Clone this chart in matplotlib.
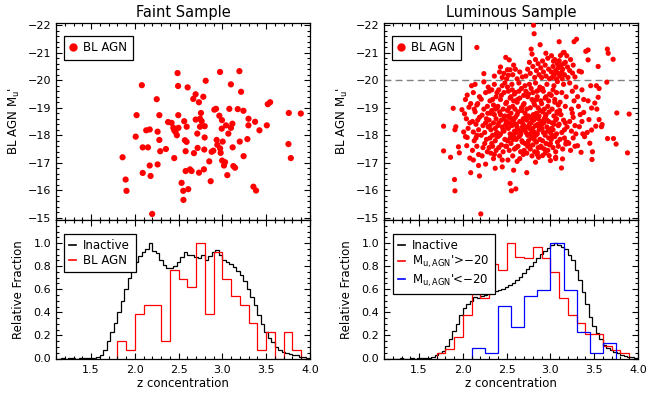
import numpy as np
import matplotlib
matplotlib.use('Agg')
import matplotlib.pyplot as plt
from matplotlib.ticker import MultipleLocator
from matplotlib.lines import Line2D

plt.rcParams['font.family'] = 'DejaVu Sans'
plt.rcParams['font.size'] = 8
plt.rcParams['axes.unicode_minus'] = True

# ---------------- faint sample: BL AGN (concentration, M_u') ----------------
faint_conc = [1.86, 1.895, 1.905, 2.02, 2.01, 2.08, 2.09, 2.09, 2.13, 2.15, 2.17, 2.17, 2.18, 2.198,
              2.25, 2.26, 2.26, 2.28, 2.28, 2.29, 2.355, 2.38, 2.42, 2.44, 2.45, 2.45, 2.465, 2.48,
              2.488, 2.494, 2.496, 2.498, 2.534, 2.553, 2.555, 2.564, 2.572, 2.58, 2.58, 2.591, 2.592,
              2.603, 2.61, 2.63, 2.648, 2.667, 2.675, 2.694, 2.695, 2.713, 2.717, 2.732, 2.733, 2.744,
              2.745, 2.755, 2.763, 2.782, 2.789, 2.793, 2.797, 2.798, 2.809, 2.85, 2.866, 2.877, 2.896,
              2.908, 2.927, 2.934, 2.942, 2.965, 2.973, 2.974, 2.98, 2.992, 2.995, 3.003, 2.997, 3.018,
              3.03, 3.041, 3.056, 3.068, 3.079, 3.097, 3.098, 3.114, 3.117, 3.125, 3.144, 3.175, 3.194,
              3.198, 3.213, 3.24, 3.242, 3.285, 3.297, 3.298, 3.354, 3.373, 3.384, 3.423, 3.507, 3.518,
              3.545, 3.754, 3.758, 3.781, 3.895]
faint_mag = [-17.20, -16.39, -15.98, -18.73, -17.95, -19.82, -17.56, -16.63, -18.18, -17.56, -18.21,
             -16.90, -16.52, -15.14, -19.31, -18.13, -16.94, -18.73, -17.83, -17.42, -17.50, -18.48,
             -18.45, -18.27, -18.18, -17.17, -18.12, -18.00, -20.26, -19.79, -18.73, -18.27, -16.27,
             -15.98, -15.65, -18.51, -17.82, -17.42, -16.70, -17.76, -18.31, -19.74, -16.04, -16.76,
             -16.70, -19.32, -17.35, -19.49, -18.57, -18.06, -17.54, -19.20, -16.64, -18.31, -18.60,
             -18.81, -18.51, -19.40, -16.76, -17.48, -17.92, -18.33, -19.98, -17.05, -16.33, -17.40,
             -17.44, -18.93, -18.96, -17.83, -17.65, -18.71, -20.30, -17.52, -17.36, -18.24, -18.55,
             -17.77, -17.08, -16.90, -17.02, -18.36, -16.55, -18.06, -18.96, -19.85, -18.27, -18.42,
             -17.56, -16.88, -16.82, -18.95, -20.33, -17.77, -19.58, -18.89, -17.24, -17.86, -18.36,
             -18.60, -16.13, -18.49, -15.99, -18.18, -18.36, -19.13, -19.20, -17.68, -18.81, -17.17,
             -18.79]

# ---------------- luminous sample: BL AGN brighter than -20 ----------------
lum_hi_conc = [2.16, 2.24, 2.36,
               2.53, 2.49, 2.43, 2.51, 2.54, 2.45, 2.47, 2.50, 2.42, 2.52,
               2.57, 2.60, 2.62, 2.65, 2.68, 2.58,
               2.807, 2.814, 2.78, 2.79, 2.72, 2.74, 2.76, 2.77, 2.80, 2.82, 2.83, 2.84,
               2.883, 2.948, 2.86, 2.87, 2.89, 2.90, 2.91, 2.92, 2.94, 2.95, 2.97, 2.98, 2.99,
               3.10, 3.012, 3.035, 3.10, 3.12, 3.149, 3.01, 3.02, 3.03, 3.04, 3.05, 3.06, 3.07,
               3.08, 3.085, 3.09, 3.11, 3.115, 3.13, 3.135, 3.14, 3.145,
               3.157, 3.187, 3.195, 3.252, 3.27, 3.298, 3.16, 3.17, 3.20, 3.22, 3.23, 3.26, 3.28,
               3.328, 3.354, 3.404, 3.43, 3.43, 3.545, 3.65, 3.66, 3.716]
lum_hi_mag = [-21.19, -20.24, -20.15,
              -20.74, -20.83, -20.48, -20.38, -20.38, -20.10, -20.25, -20.05, -20.30, -20.18,
              -20.20, -20.40, -20.05, -20.30, -20.12, -20.55,
              -22.00, -21.69, -21.13, -20.95, -20.15, -20.40, -20.65, -20.25, -20.50, -20.10, -20.75, -20.35,
              -21.29, -20.98, -20.60, -20.20, -20.45, -20.10, -20.70, -20.30, -20.55, -20.15, -20.80, -20.40, -20.05,
              -21.40, -20.89, -20.69, -20.71, -20.54, -20.60, -20.30, -20.10, -20.50, -20.20, -20.75, -20.35, -20.05,
              -20.60, -20.25, -20.45, -20.15, -20.90, -20.30, -20.05, -20.40, -21.00,
              -21.01, -20.89, -20.48, -20.26, -21.40, -21.49, -20.20, -20.65, -20.10, -20.35, -20.75, -20.55, -20.12,
              -20.33, -20.30, -21.05, -21.10, -20.74, -20.50, -21.13, -20.98, -20.76]

# ---------------- luminous sample: BL AGN fainter than -20 ----------------
lum_lo_conc = [
    1.78, 1.78, 1.86, 1.89, 1.905, 1.91, 1.91, 1.92, 1.95, 1.96, 1.99,
    2.02, 2.03, 2.05, 2.08, 2.09, 2.05, 2.10, 2.04, 2.06, 2.07, 2.01, 2.045, 2.08, 2.09, 2.03,
    2.18, 2.19, 2.12, 2.13, 2.14, 2.15, 2.11, 2.16, 2.17, 2.12, 2.19, 2.14, 2.16, 2.17, 2.18, 2.13,
    2.15, 2.19, 2.11, 2.16, 2.18, 2.12,
    2.205, 2.21, 2.22, 2.24, 2.23, 2.25, 2.26, 2.27, 2.28, 2.29, 2.21, 2.22, 2.24, 2.25, 2.26, 2.27,
    2.28, 2.29, 2.23, 2.26, 2.285,
    2.30, 2.31, 2.31, 2.32, 2.32, 2.33, 2.33, 2.34, 2.34, 2.35, 2.35, 2.35, 2.36, 2.36, 2.37, 2.37,
    2.37, 2.38, 2.38, 2.38, 2.39, 2.39, 2.39, 2.30, 2.31, 2.32, 2.33, 2.34, 2.36, 2.37, 2.38, 2.39, 2.30,
    2.40, 2.40, 2.41, 2.41, 2.42, 2.42, 2.43, 2.43, 2.44, 2.44, 2.45, 2.45, 2.46, 2.46, 2.47, 2.47,
    2.48, 2.48, 2.49, 2.49, 2.40, 2.41, 2.42, 2.43, 2.44, 2.45, 2.46, 2.47, 2.48, 2.49, 2.45,
    2.54, 2.555, 2.58, 2.50, 2.50, 2.51, 2.51, 2.52, 2.52, 2.53, 2.53, 2.54, 2.54, 2.55, 2.55, 2.56,
    2.56, 2.57, 2.57, 2.58, 2.58, 2.59, 2.59, 2.50, 2.51, 2.52, 2.53, 2.54, 2.55, 2.56, 2.57, 2.58,
    2.59, 2.505, 2.515, 2.535, 2.565, 2.575, 2.585, 2.595,
    2.605, 2.62, 2.60, 2.61, 2.61, 2.62, 2.62, 2.63, 2.63, 2.64, 2.64, 2.65, 2.65, 2.66, 2.66, 2.67,
    2.67, 2.68, 2.68, 2.69, 2.69, 2.60, 2.61, 2.62, 2.63, 2.64, 2.65, 2.66, 2.67, 2.68, 2.69, 2.605,
    2.625, 2.655, 2.675, 2.695,
    2.73, 2.75, 2.70, 2.70, 2.71, 2.71, 2.72, 2.72, 2.73, 2.73, 2.74, 2.74, 2.75, 2.75, 2.76, 2.76,
    2.77, 2.77, 2.78, 2.78, 2.79, 2.79, 2.70, 2.71, 2.72, 2.73, 2.74, 2.75, 2.76, 2.77, 2.78, 2.79,
    2.705, 2.745, 2.785,
    2.83, 2.85, 2.80, 2.80, 2.81, 2.81, 2.82, 2.82, 2.83, 2.83, 2.84, 2.84, 2.85, 2.85, 2.86, 2.86,
    2.87, 2.87, 2.88, 2.88, 2.89, 2.89, 2.80, 2.81, 2.82, 2.83, 2.84, 2.85, 2.86, 2.87, 2.88, 2.89,
    2.805, 2.815, 2.835, 2.845, 2.855, 2.865, 2.875,
    2.91, 2.986, 2.90, 2.90, 2.91, 2.91, 2.92, 2.92, 2.93, 2.93, 2.94, 2.94, 2.95, 2.95, 2.96, 2.96,
    2.97, 2.97, 2.98, 2.98, 2.99, 2.99, 2.90, 2.91, 2.93, 2.94, 2.95, 2.96, 2.97, 2.98, 2.99, 2.905,
    2.925, 2.945, 2.985,
    3.00, 3.06, 3.00, 3.01, 3.01, 3.02, 3.02, 3.03, 3.03, 3.04, 3.04, 3.05, 3.05, 3.06, 3.06, 3.07,
    3.07, 3.08, 3.08, 3.09, 3.09, 3.00, 3.02, 3.03, 3.04, 3.05, 3.06, 3.07, 3.08, 3.09, 3.015, 3.075,
    3.126, 3.138, 3.176, 3.195, 3.10, 3.11, 3.11, 3.12, 3.13, 3.13, 3.14, 3.15, 3.15, 3.16, 3.16,
    3.17, 3.17, 3.18, 3.18, 3.19, 3.105,
    3.21, 3.22, 3.22, 3.23, 3.24, 3.24, 3.25, 3.26, 3.26, 3.27, 3.28, 3.28, 3.29, 3.25, 3.29,
    3.31, 3.33, 3.31, 3.35, 3.32, 3.34, 3.36, 3.37, 3.38, 3.39, 3.36, 3.38,
    3.42, 3.44, 3.45, 3.47, 3.47, 3.48, 3.475, 3.43, 3.46,
    3.507, 3.53, 3.518, 3.545, 3.556, 3.556, 3.583, 3.59, 3.525,
    3.644, 3.652, 3.72, 3.75, 3.758, 3.88, 3.899]
lum_lo_mag = [
    -18.33, -17.43, -17.20, -18.98, -16.39, -15.98, -18.20, -18.31, -17.58, -17.36, -18.93,
    -18.78, -17.95, -17.92, -17.17, -16.64, -19.46, -19.80, -18.60, -18.25, -19.02, -18.12, -17.62,
    -18.45, -19.15, -19.30,
    -16.90, -16.52, -18.12, -17.80, -18.85, -18.40, -17.45, -17.60, -19.15, -19.55, -18.65, -19.85,
    -18.00, -18.55, -17.30, -18.95, -17.90, -19.40, -18.50, -19.10, -18.20, -17.10,
    -15.14, -19.31, -18.73, -19.94, -17.55, -18.10, -18.45, -17.85, -19.05, -18.30, -18.00, -17.25,
    -18.95, -17.70, -19.55, -18.60, -17.40, -19.75, -18.35, -16.95, -18.80,
    -18.55, -17.90, -19.25, -18.20, -17.35, -18.90, -19.65, -18.00, -17.60, -18.45, -19.10, -17.15,
    -18.75, -19.85, -18.25, -17.80, -16.80, -19.40, -18.60, -17.45, -18.10, -19.00, -17.95, -19.60,
    -18.35, -18.80, -17.70, -19.30, -17.30, -18.95, -18.05, -19.55, -17.55,
    -19.05, -17.95, -18.45, -19.65, -18.85, -17.25, -18.05, -19.30, -18.55, -17.65, -19.80, -18.30,
    -18.95, -17.40, -18.15, -19.55, -18.70, -17.85, -19.15, -18.40, -18.35, -17.55, -18.00, -18.75,
    -19.45, -17.10, -18.20, -18.60, -19.90, -17.60, -16.85,
    -16.25, -15.98, -16.73, -18.50, -19.20, -17.80, -18.90, -19.60, -18.25, -17.45, -18.65, -19.35,
    -18.05, -17.70, -18.80, -19.85, -18.35, -17.25, -19.05, -18.55, -17.95, -19.50, -18.15, -17.60,
    -19.75, -18.70, -19.00, -17.90, -19.40, -18.60, -18.00, -19.25, -17.50, -18.30, -17.10, -18.45,
    -19.65, -17.85, -18.40, -18.95,
    -16.05, -17.05, -19.55, -17.85, -18.40, -19.20, -18.75, -17.60, -18.20, -19.90, -17.95, -18.50,
    -19.35, -18.05, -17.40, -18.90, -19.70, -18.30, -17.75, -19.10, -18.60, -18.65, -17.55, -18.30,
    -18.85, -19.60, -17.15, -18.15, -19.00, -18.45, -17.30, -18.10, -19.30, -18.00, -17.80, -19.45,
    -16.64, -17.64, -18.35, -19.15, -17.70, -18.80, -19.60, -18.10, -17.35, -18.55, -19.40, -18.00,
    -17.80, -18.70, -19.85, -18.25, -17.50, -19.00, -18.45, -17.90, -19.30, -18.15, -17.45, -19.80,
    -18.65, -18.95, -17.60, -19.50, -18.40, -18.05, -19.70, -17.25, -18.20, -18.30, -18.60,
    -17.02, -17.38, -18.25, -19.55, -17.95, -18.55, -19.10, -17.40, -18.35, -19.90, -18.80, -17.75,
    -18.05, -19.40, -18.60, -17.55, -18.20, -19.65, -18.90, -17.85, -19.25, -18.50, -17.65, -19.20,
    -18.10, -18.65, -19.30, -17.30, -19.00, -18.70, -19.75, -17.60, -18.75, -17.85, -18.00, -19.60,
    -18.40, -17.20, -18.30,
    -17.26, -17.26, -18.40, -19.15, -17.80, -18.85, -19.60, -18.10, -17.50, -18.60, -19.35, -18.00,
    -17.70, -18.75, -19.85, -18.30, -17.45, -19.05, -18.50, -17.90, -19.50, -18.20, -17.55, -19.70,
    -18.95, -17.35, -19.40, -18.55, -18.15, -19.25, -17.65, -18.25, -18.45, -18.70, -18.85,
    -17.08, -17.15, -18.10, -19.45, -17.85, -18.45, -18.95, -17.55, -18.20, -19.80, -18.70, -17.95,
    -19.30, -18.55, -17.40, -18.05, -19.55, -18.80, -17.75, -19.10, -18.35, -17.70, -18.00, -19.65,
    -18.40, -19.20, -17.20, -18.60, -19.95, -17.60, -18.25, -18.85,
    -16.81, -17.14, -17.68, -17.74, -18.40, -19.20, -17.85, -18.75, -19.55, -18.10, -17.50, -18.55,
    -19.85, -18.20, -17.90, -19.05, -18.45, -17.75, -19.40, -18.30, -18.90,
    -17.71, -19.90, -18.50, -17.45, -18.95, -18.15, -19.60, -17.90, -18.65, -19.25, -18.35, -17.60,
    -19.75, -18.80, -18.05,
    -17.62, -18.31, -19.40, -17.38, -19.05, -18.75, -19.65, -18.05, -19.30, -17.95, -18.50, -18.83,
    -18.10, -18.57, -17.71, -18.99, -18.19, -17.40, -17.12, -19.25, -19.80,
    -19.17, -18.95, -18.33, -19.38, -19.70, -18.57, -18.31, -18.39, -19.80,
    -19.93, -17.88, -17.88, -17.68, -18.81, -17.36, -18.77]

# ---------------- histograms (relative fraction) ----------------
inactive_edges = np.arange(1.12, 4.0001, 0.04)
inactive_faint = [0.0, 0.003, 0.0, 0.003, 0.005, 0.0, 0.003, 0.003, 0.005, 0.005, 0.008, 0.012,
                  0.03, 0.07, 0.15, 0.23, 0.31, 0.40, 0.50, 0.60, 0.70, 0.76,
                  0.84, 0.89, 0.92, 0.95, 1.00, 0.93, 0.91, 0.85, 0.81, 0.78,
                  0.78, 0.80, 0.84, 0.88, 0.92, 0.90, 0.90, 0.88, 0.87, 0.90,
                  0.85, 0.89, 0.92, 0.94, 0.90, 0.85, 0.84, 0.82, 0.79, 0.76,
                  0.72, 0.67, 0.60, 0.53, 0.46, 0.38, 0.30, 0.23, 0.18, 0.14,
                  0.10, 0.075, 0.06, 0.05, 0.04, 0.033, 0.026, 0.017, 0.01, 0.005]
inactive_lum = [0.0, 0.0, 0.0, 0.0, 0.002, 0.0, 0.0, 0.002, 0.0, 0.002, 0.003, 0.004,
                0.005, 0.012, 0.03, 0.045, 0.065, 0.11, 0.17, 0.235, 0.30, 0.38,
                0.44, 0.47, 0.50, 0.53, 0.52, 0.54, 0.55, 0.565, 0.575, 0.585,
                0.595, 0.605, 0.62, 0.635, 0.655, 0.68, 0.71, 0.74, 0.775, 0.80,
                0.84, 0.875, 0.905, 0.93, 0.955, 0.98, 1.00, 0.985, 0.965, 0.945,
                0.90, 0.85, 0.77, 0.68, 0.58, 0.47, 0.36, 0.28, 0.22, 0.165,
                0.12, 0.095, 0.075, 0.058, 0.046, 0.034, 0.025, 0.017, 0.01, 0.005]

agn_faint_edges = np.arange(1.8, 4.0001, 0.1)
agn_faint_counts = [2, 1, 5, 6, 6, 2, 10, 9, 8, 13, 5, 12, 9, 7, 6, 4, 1, 3, 0, 3, 1, 0]

agn_dim_edges = np.arange(1.7, 3.9001, 0.1)
agn_dim_frac = [0.045, 0.086, 0.19, 0.38, 0.56, 0.52, 0.82, 0.77, 1.0, 0.88, 0.87,
                0.97, 0.87, 0.75, 0.52, 0.38, 0.31, 0.21, 0.21, 0.11, 0.07, 0.05]

agn_bright_edges = np.arange(2.1, 3.7501, 0.15)
agn_bright_counts = [2, 1, 10, 6, 12, 13, 22, 13, 5, 1, 3]

# ---------------- layout ----------------
W, H = 647, 394
fig = plt.figure(figsize=(W / 100, H / 100), dpi=100)


def px_axes(x0, x1, y0, y1):
    return fig.add_axes([x0 / W, 1 - y1 / H, (x1 - x0) / W, (y1 - y0) / H])


ax_fs = px_axes(56, 310, 23, 220)
ax_fh = px_axes(56, 310, 220, 358.5)
ax_ls = px_axes(384, 638, 23, 220)
ax_lh = px_axes(384, 638, 220, 358.5)


def style(ax):
    ax.tick_params(which='both', direction='in', top=True, right=True, width=0.8, labelsize=8)
    ax.tick_params(which='major', length=4.5)
    ax.tick_params(which='minor', length=2.2)
    for s in ax.spines.values():
        s.set_linewidth(0.9)
    ax.set_xlim(1.1, 4.0)
    ax.xaxis.set_major_locator(MultipleLocator(0.5))
    ax.xaxis.set_minor_locator(MultipleLocator(0.1))


def legend_box(ax, handles, labels, anchor):
    leg = ax.legend(handles, labels, loc='upper left', bbox_to_anchor=anchor, borderaxespad=0,
                    frameon=True, fancybox=False, edgecolor='black', framealpha=1,
                    handlelength=0.6, handletextpad=0.6, borderpad=0.45, labelspacing=0.15,
                    fontsize=8.5)
    leg.get_frame().set_linewidth(0.9)
    return leg


panels = [(ax_fs, [(faint_conc, faint_mag)], 'Faint Sample', 20),
          (ax_ls, [(lum_lo_conc, lum_lo_mag), (lum_hi_conc, lum_hi_mag)], 'Luminous Sample', 14)]
for ax, sets, title, size in panels:
    style(ax)
    for cx, my in sets:
        ax.scatter(cx, my, s=size, c='red', edgecolors='none', zorder=3)
    ax.set_ylim(-14.92, -22.08)
    ax.yaxis.set_major_locator(MultipleLocator(1))
    ax.yaxis.set_minor_locator(MultipleLocator(0.2))
    ax.tick_params(labelbottom=False)
    ax.set_title(title, fontsize=10.5, pad=4)
    ax.set_ylabel("BL AGN M$_\\mathrm{u}$'", fontsize=8.5, labelpad=4)
    dot = Line2D([], [], ls='none', marker='o', ms=5, color='red')
    legend_box(ax, [dot], ['BL AGN'], (0.031, 0.934))

ax_ls.axhline(-20, color='gray', ls=(0, (5, 3)), lw=1, zorder=2)

for ax in (ax_fh, ax_lh):
    style(ax)
    ax.set_ylim(0, 1.2)
    ax.set_yticks([0.0, 0.2, 0.4, 0.6, 0.8, 1.0])
    ax.set_yticklabels(['0.0', '0.2', '0.4', '0.6', '0.8', '1.0'])
    ax.yaxis.set_minor_locator(MultipleLocator(0.05))
    ax.set_xticks([1.5, 2.0, 2.5, 3.0, 3.5, 4.0])
    ax.set_xticklabels(['1.5', '2.0', '2.5', '3.0', '3.5', '4.0'])
    ax.tick_params(axis='x', pad=5)
    ax.set_xlabel('z concentration', fontsize=8.5, labelpad=1)
    ax.set_ylabel('Relative Fraction', fontsize=8.5, labelpad=6)

agn_faint = np.array(agn_faint_counts) / max(agn_faint_counts)
agn_bright = np.array(agn_bright_counts) / max(agn_bright_counts)

ax_fh.stairs(inactive_faint, inactive_edges, color='black', lw=0.9, baseline=0)
ax_fh.stairs(agn_faint, agn_faint_edges, color='red', lw=0.9, baseline=0)
legend_box(ax_fh,
           [Line2D([], [], color='black', lw=1.2), Line2D([], [], color='red', lw=1.2)],
           ['Inactive', 'BL AGN'], (0.031, 0.899))

ax_lh.stairs(inactive_lum, inactive_edges, color='black', lw=0.9, baseline=0)
ax_lh.stairs(agn_dim_frac, agn_dim_edges, color='red', lw=0.9, baseline=0)
ax_lh.stairs(agn_bright, agn_bright_edges, color='blue', lw=0.9, baseline=0)
legend_box(ax_lh,
           [Line2D([], [], color='black', lw=1.2), Line2D([], [], color='red', lw=1.2),
            Line2D([], [], color='blue', lw=1.2)],
           ['Inactive', "M$_\\mathrm{u,AGN}$'>\u221220", "M$_\\mathrm{u,AGN}$'<\u221220"],
           (0.035, 0.899))

fig.savefig('out.png', dpi=100)
